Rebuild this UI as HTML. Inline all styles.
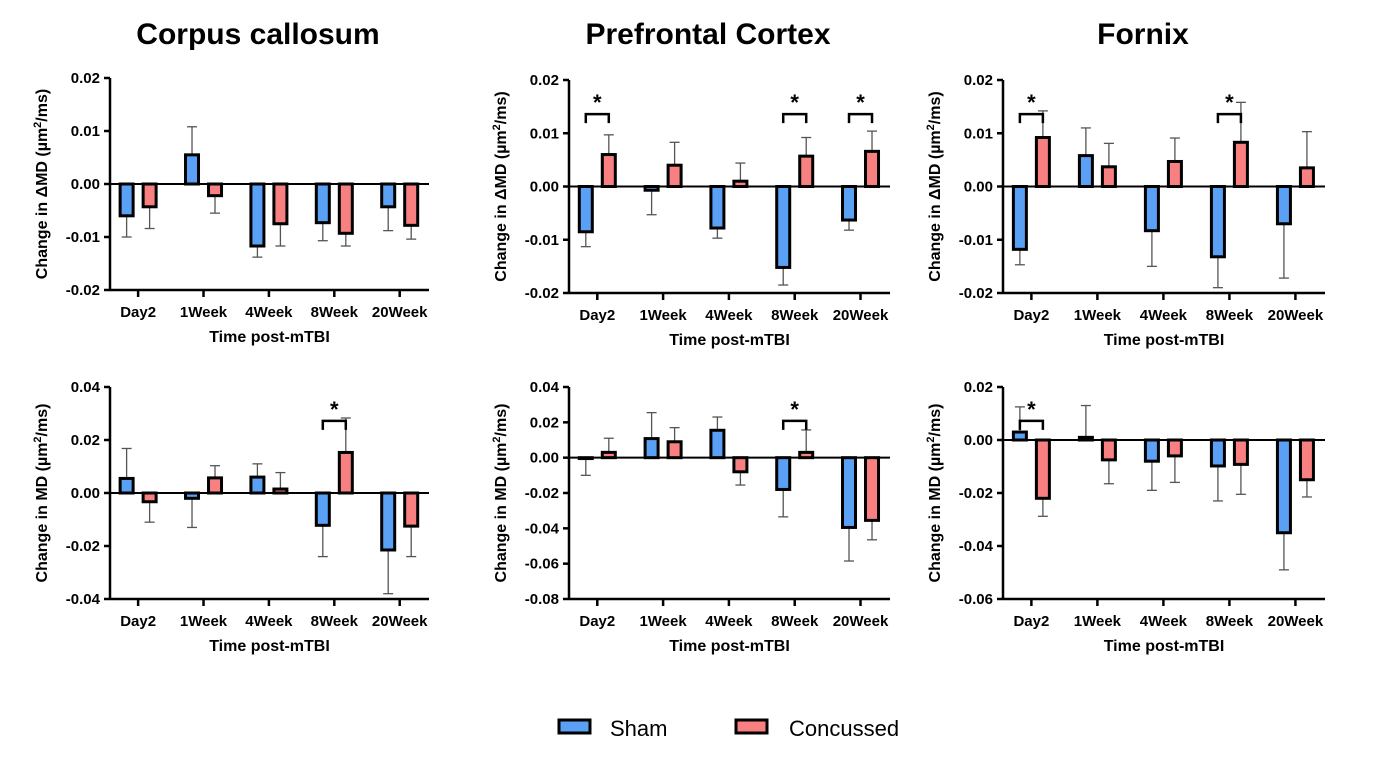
<!DOCTYPE html>
<html><head><meta charset="utf-8"><style>
body{margin:0;background:#fff;width:1387px;height:753px;overflow:hidden;font-family:"Liberation Sans",Arial,sans-serif}
svg text{font-family:"Liberation Sans",Arial,sans-serif}
</style></head><body>
<svg id="fig" width="1387" height="753">
<text x="258" y="44" text-anchor="middle" font-size="30" font-weight="bold">Corpus callosum</text>
<text x="708" y="44" text-anchor="middle" font-size="30" font-weight="bold">Prefrontal Cortex</text>
<text x="1143" y="44" text-anchor="middle" font-size="30" font-weight="bold">Fornix</text>
<g>
<rect x="559" y="720" width="31" height="13" fill="#5aa0f5" stroke="#000" stroke-width="3"/>
<text x="610" y="736" font-size="22">Sham</text>
<rect x="736" y="720" width="31" height="13" fill="#f88080" stroke="#000" stroke-width="3"/>
<text x="789" y="736" font-size="22">Concussed</text>
</g>
</svg>
<script>
const categories=["Day2","1Week","4Week","8Week","20Week"];
const p1Sham=[-0.006,0.0055,-0.0117,-0.0073,-0.0043];
const p1ShamErr=[0.004,0.0053,0.0021,0.0034,0.0045];
const p1Conc=[-0.0043,-0.0022,-0.0075,-0.0093,-0.0078];
const p1ConcErr=[0.0041,0.0033,0.0042,0.0024,0.0026];
const p2Sham=[-0.0085,-0.0007,-0.0078,-0.0152,-0.0063];
const p2ShamErr=[0.0028,0.0046,0.0019,0.0033,0.0019];
const p2Conc=[0.006,0.004,0.001,0.0057,0.0066];
const p2ConcErr=[0.0037,0.0043,0.0034,0.0035,0.0038];
const p3Sham=[-0.0118,0.0058,-0.0083,-0.0132,-0.007];
const p3ShamErr=[0.0029,0.0052,0.0067,0.0058,0.0102];
const p3Conc=[0.0092,0.0037,0.0047,0.0083,0.0035];
const p3ConcErr=[0.005,0.0044,0.0044,0.0075,0.0068];
const p4Sham=[0.0055,-0.002,0.006,-0.0122,-0.0215];
const p4ShamErr=[0.0113,0.011,0.005,0.0118,0.0165];
const p4Conc=[-0.0033,0.0057,0.0015,0.0153,-0.0125];
const p4ConcErr=[0.0077,0.0046,0.0062,0.013,0.0115];
const p5Sham=[-0.0005,0.0108,0.0155,-0.018,-0.0395];
const p5ShamErr=[0.0095,0.0147,0.0075,0.0155,0.019];
const p5Conc=[0.003,0.009,-0.008,0.003,-0.0355];
const p5ConcErr=[0.008,0.008,0.0075,0.0127,0.011];
const p6Sham=[0.003,0.001,-0.008,-0.0098,-0.035];
const p6ShamErr=[0.0095,0.012,0.011,0.0132,0.014];
const p6Conc=[-0.022,-0.0075,-0.006,-0.0092,-0.015];
const p6ConcErr=[0.0068,0.009,0.01,0.0113,0.0065];
const p1Ticks=[0.02,0.01,0,-0.01,-0.02];
const p2Ticks=[0.02,0.01,0,-0.01,-0.02];
const p3Ticks=[0.02,0.01,0,-0.01,-0.02];
const p4Ticks=[0.04,0.02,0,-0.02,-0.04];
const p5Ticks=[0.04,0.02,0,-0.02,-0.04,-0.06,-0.08];
const p6Ticks=[0.02,0,-0.02,-0.04,-0.06];
const p1Sig=[],p2Sig=[0,3,4],p3Sig=[0,3],p4Sig=[3],p5Sig=[3],p6Sig=[0];

const NS="http://www.w3.org/2000/svg";
const svg=document.getElementById('fig');
function mk(tag,attrs,parent,text){const e=document.createElementNS(NS,tag);for(const k in attrs)e.setAttribute(k,attrs[k]);if(text!==undefined)e.textContent=text;(parent||svg).appendChild(e);return e;}

function panel(id,x0,x1,y0,y1,ticks,sham,shamErr,conc,concErr,sig,ylab){
  const g=mk('g',{});
  
  
  const ymax=ticks[0],ymin=ticks[ticks.length-1];
  const y=v=>y0+(ymax-v)/(ymax-ymin)*(y1-y0);
  const step=(x1-x0)/categories.length*1.025;
  const cx=i=>x0+step*(i+0.43);
  const bw=13,off=11.5;
  const ax=mk('line',{x1:x0,y1:y0,x2:x0,y2:y1,stroke:'#000','stroke-width':2.5},g);
  
  const xa=mk('line',{x1:x0,y1:y1,x2:x1,y2:y1,stroke:'#000','stroke-width':2.5},g);
  
  ticks.forEach(t=>{
    mk('line',{x1:x0-6,y1:y(t),x2:x0,y2:y(t),stroke:'#000','stroke-width':2.5},g);
    const tl=mk('text',{x:x0-10,y:y(t)+5,'text-anchor':'end','font-size':15,'font-weight':'bold'},g,t.toFixed(2));
    
  });
  categories.forEach((c,i)=>{
    mk('line',{x1:cx(i),y1:y1,x2:cx(i),y2:y1+7,stroke:'#000','stroke-width':2.5},g);
    const tl=mk('text',{x:cx(i),y:y1+27,'text-anchor':'middle','font-size':15,'font-weight':'bold'},g,c);
    
    [[sham,shamErr,-off,'#5aa0f5','sham'],[conc,concErr,off,'#f88080','concussed']].forEach(([vals,errs,o,col,nm])=>{
      const v=vals[i],e=errs[i],bx=cx(i)+o;
      const end=v>=0?v+e:v-e;
      const el=mk('line',{x1:bx,y1:y(v),x2:bx,y2:y(end),stroke:'#555','stroke-width':1.3},g);
      
      mk('line',{x1:bx-5,y1:y(end),x2:bx+5,y2:y(end),stroke:'#555','stroke-width':1.3},g);
      const top=Math.min(y(v),y(0)),h=Math.abs(y(v)-y(0));
      const r=mk('rect',{x:bx-bw/2,y:top,width:bw,height:Math.max(h,0.5),fill:col,stroke:'#000','stroke-width':3},g);
      
    });
  });
  const zl=mk('line',{x1:x0,y1:y(0),x2:x1,y2:y(0),stroke:'#000','stroke-width':2},g);
  
  sig.forEach(i=>{
    const by=y0+(y1-y0)*0.16, a=cx(i)-off, b=cx(i)+off;
    const br=mk('path',{d:`M${a} ${by+9}V${by}H${b}V${by+9}`,fill:'none',stroke:'#000','stroke-width':2.5},g);
    
    const st=mk('text',{x:cx(i),y:by-4,'text-anchor':'middle','font-size':22,'font-weight':'bold'},g,'*');
    
  });
  const xt=mk('text',{x:(x0+x1)/2,y:y1+52,'text-anchor':'middle','font-size':16,'font-weight':'bold'},g,'Time post-mTBI');
  
  const ly=(y0+y1)/2, lx=x0-63;
  const yt=mk('text',{x:lx,y:ly,'text-anchor':'middle','font-size':16,'font-weight':'bold',transform:`rotate(-90 ${lx} ${ly})`},g);
  
  mk('tspan',{},yt,'Change in '+ylab+' (µm');
  mk('tspan',{dy:-6,'font-size':11},yt,'2');
  mk('tspan',{dy:6},yt,'/ms)');
}
panel('panel-cc-delta-md',110,429,78,290,p1Ticks,p1Sham,p1ShamErr,p1Conc,p1ConcErr,p1Sig,'ΔMD');
panel('panel-pfc-delta-md',569,890,80,293,p2Ticks,p2Sham,p2ShamErr,p2Conc,p2ConcErr,p2Sig,'ΔMD');
panel('panel-fornix-delta-md',1003,1325,80,293,p3Ticks,p3Sham,p3ShamErr,p3Conc,p3ConcErr,p3Sig,'ΔMD');
panel('panel-cc-md',110,429,387,599,p4Ticks,p4Sham,p4ShamErr,p4Conc,p4ConcErr,p4Sig,'MD');
panel('panel-pfc-md',569,890,387,599,p5Ticks,p5Sham,p5ShamErr,p5Conc,p5ConcErr,p5Sig,'MD');
panel('panel-fornix-md',1003,1325,387,599,p6Ticks,p6Sham,p6ShamErr,p6Conc,p6ConcErr,p6Sig,'MD');
</script>
</body></html>
